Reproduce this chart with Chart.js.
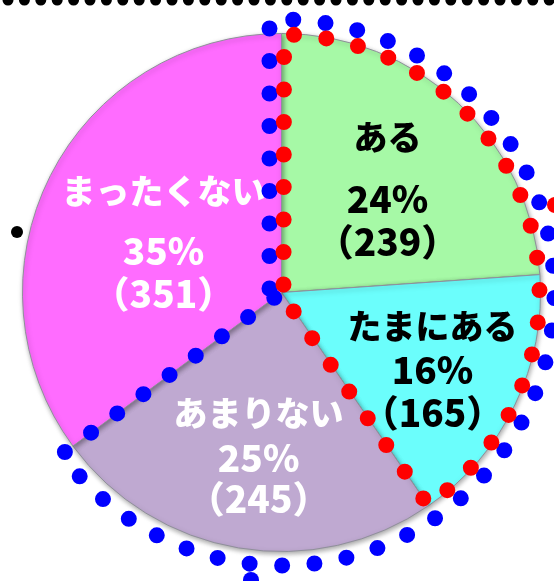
<!DOCTYPE html>
<html>
<head>
<meta charset="utf-8">
<script src="https://cdn.jsdelivr.net/npm/chart.js@4"></script>
<style>
  html, body { margin: 0; padding: 0; background: #fff; overflow: hidden; }
  #wrap { position: relative; width: 554px; height: 581px; }
</style>
</head>
<body>
<div id="wrap"><canvas id="pie"></canvas></div>
<script>
// data
const categories = ['ある', 'たまにある', 'あまりない', 'まったくない'];
const counts     = [239, 165, 245, 351];
const percents   = [24, 16, 25, 35];

const colors     = ['#a6f9a6', '#6bfefc', '#bfa9d1', '#ff6cff'];
const textColors = ['#000', '#000', '#fff', '#fff'];
// label anchor: angle from top (deg, clockwise), distance as share of radius, line offsets
const labelPos = [
  { ang: 48.4,  dist: 0.547, dy: [-61, 0, 43] },
  { ang: 117.3, dist: 0.656, dy: [-44, 0, 43] },
  { ang: 187.9, dist: 0.643, dy: [-44, 0, 41] },
  { ang: 289.6, dist: 0.484, dy: [-59, 0, 43] }
];

function dotted(ctx, color, size, gap, build){
  ctx.save();
  ctx.strokeStyle = color;
  ctx.lineWidth = size;
  ctx.lineCap = 'round';
  ctx.setLineDash([0, gap]);
  ctx.beginPath();
  build(ctx);
  ctx.stroke();
  ctx.restore();
}

const deco = {
  id: 'deco',
  beforeDatasetsDraw(chart){
    const ctx = chart.ctx;
    ctx.save();
    ctx.shadowColor = 'rgba(0,0,0,0.35)';
    ctx.shadowBlur = 5;
    ctx.shadowOffsetX = 1;
    ctx.shadowOffsetY = 2;
  },
  afterDatasetsDraw(chart){
    const ctx = chart.ctx;
    ctx.restore();
    const arcs = chart.getDatasetMeta(0).data;
    const cx = arcs[0].x, cy = arcs[0].y, r = arcs[0].outerRadius;

    // slice labels
    ctx.save();
    ctx.textAlign = 'center';
    ctx.textBaseline = 'middle';
    categories.forEach((name, i) => {
      const p = labelPos[i];
      const a = p.ang * Math.PI / 180;
      const x = cx + Math.sin(a) * r * p.dist;
      const y = cy - Math.cos(a) * r * p.dist;
      ctx.fillStyle = textColors[i];
      ctx.font = '900 34px "Noto Sans CJK JP"';
      ctx.fillText(name, x, y + p.dy[0]);
      ctx.font = '900 37px "Noto Sans CJK JP"';
      ctx.fillText(percents[i] + '%', x, y + p.dy[1]);
      ctx.fillText('（' + counts[i] + '）', x, y + p.dy[2]);
    });
    ctx.restore();

    // blue outline: ある + たまにある + あまりない
    const rb = r + 14;
    dotted(ctx, '#0000ff', 16, 32.5, c => {
      c.moveTo(cx - 12, cy - 4);
      c.arc(cx, cy, rb, -Math.PI / 2 - Math.asin(12 / rb), arcs[2].endAngle);
      c.lineTo(cx, cy);
    });
    // red outline: ある + たまにある
    dotted(ctx, '#ff0000', 16, 32.5, c => {
      c.moveTo(cx + 2, cy - 8);
      c.arc(cx, cy, r - 1, -Math.PI / 2 + 0.01, arcs[1].endAngle);
      c.lineTo(cx + 6, cy + 10);
    });
    // stray marks of the surrounding slide
    dotted(ctx, '#000', 11, 16.4, c => { c.moveTo(8, 0); c.lineTo(560, 0); });
    ctx.save();
    ctx.fillStyle = '#000';
    ctx.beginPath(); ctx.arc(17, 232, 6, 0, Math.PI * 2); ctx.fill();
    ctx.fillStyle = '#0000ff';
    ctx.beginPath(); ctx.arc(251, 580, 8, 0, Math.PI * 2); ctx.fill();
    ctx.fillStyle = '#ff0000';
    ctx.beginPath(); ctx.arc(555, 205, 8, 0, Math.PI * 2); ctx.fill();
    ctx.restore();
  }
};

new Chart(document.getElementById('pie'), {
  type: 'pie',
  data: {
    labels: categories,
    datasets: [{
      data: counts,
      backgroundColor: colors,
      borderColor: '#8f8f9a',
      borderWidth: 1
    }]
  },
  options: {
    animation: false,
    responsive: true,
    maintainAspectRatio: false,
    layout: { padding: { left: 22, right: 13, top: 33, bottom: 29 } },
    plugins: { legend: { display: false }, tooltip: { enabled: false } }
  },
  plugins: [deco]
});
</script>
</body>
</html>
